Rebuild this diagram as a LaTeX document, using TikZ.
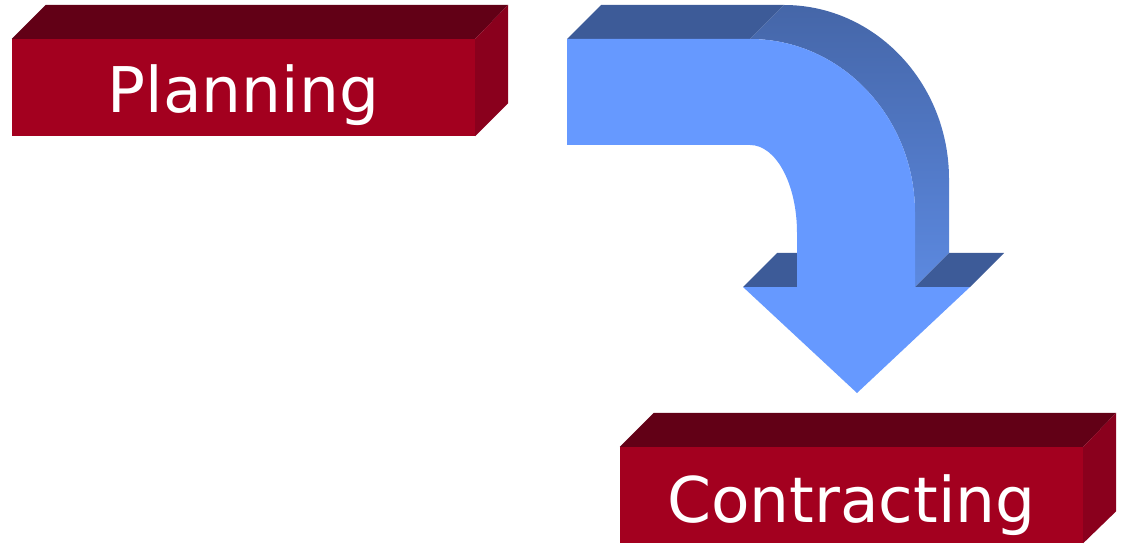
\documentclass[tikz,border=0pt]{standalone}
\usepackage{fontspec}
\newfontfamily\labelfont{DejaVu Sans}
\definecolor{redfront}{HTML}{A3001F}
\definecolor{redtop}{HTML}{620016}
\definecolor{redside}{HTML}{8A001D}
\definecolor{bluefront}{HTML}{6699FF}
\definecolor{bluetop}{HTML}{3D5B98}
\definecolor{bluesideA}{HTML}{4566A8}
\definecolor{bluesideB}{HTML}{5C89E0}
\tikzset{
  frontbox/.style={rectangle, fill=redfront, inner sep=0pt, minimum width=463pt,
    text=white, font=\labelfont\fontsize{63}{63}\selectfont},
}
\begin{document}
\begin{tikzpicture}[x=1pt,y=-1pt]
\useasboundingbox (0,0) rectangle (1126,545);
% ---------- Planning box ----------
\node[frontbox, minimum height=97pt, text height=74pt, text depth=23pt] (plan) at (243.5,87.5) {Planning};
\fill[redtop] (plan.north west) -- ++(34,-34) -- ([shift={(33,-34)}]plan.north east) -- (plan.north east) -- cycle;
\fill[redside] (plan.north east) -- ++(33,-34) -- ([shift={(33,-33)}]plan.south east) -- (plan.south east) -- cycle;
% ---------- Contracting box ----------
\node[frontbox, minimum height=96pt, text height=75pt, text depth=21pt] (contr) at (851.5,495) {Contracting};
\fill[redtop] (contr.north west) -- ++(34,-34) -- ([shift={(33,-34)}]contr.north east) -- (contr.north east) -- cycle;
\fill[redside] (contr.north east) -- ++(33,-34) -- ([shift={(33,-32)}]contr.south east) -- (contr.south east) -- cycle;
% ---------- Bent arrow ----------
\coordinate (aTL) at (567,39);
\coordinate (aBL) at (567,145);
\coordinate (aO1) at (750,39);
\coordinate (aO2) at (915,213);
\coordinate (aO3) at (915,287);
\coordinate (aI1) at (750,145);
\coordinate (aI2) at (797,233);
\coordinate (aI3) at (797,287);
\coordinate (aWL) at (743,287);
\coordinate (aWR) at (970,287);
\coordinate (aTip) at (857,393);
% top face of the straight part
\fill[bluetop] (aTL) -- ++(34,-34) -- ([shift={(34,-34)}]aO1) -- (aO1) -- cycle;
% curved outer side face
\shade[left color=bluesideA, right color=bluesideB, shading angle=0]
  (aO1) .. controls (841,39) and (915,117) .. (aO2) -- (aO3)
  -- ([shift={(34,-34)}]aO3) -- ([shift={(34,-34)}]aO2)
  .. controls (949,83) and (875,5) .. ([shift={(34,-34)}]aO1) -- cycle;
% arrowhead wing tops
\fill[bluetop] (aWL) -- ++(34,-34) -- ([shift={(0,-34)}]aI3) -- (aI3) -- cycle;
\fill[bluetop] (aO3) -- ++(34,-34) -- ([shift={(34,-34)}]aWR) -- (aWR) -- cycle;
% front face
\fill[bluefront] (aTL) -- (aO1) .. controls (841,39) and (915,117) .. (aO2) -- (aO3)
  -- (aWR) -- (aTip) -- (aWL) -- (aI3) -- (aI2)
  .. controls (797,184) and (776,145) .. (aI1) -- (aBL) -- cycle;
\end{tikzpicture}
\end{document}
